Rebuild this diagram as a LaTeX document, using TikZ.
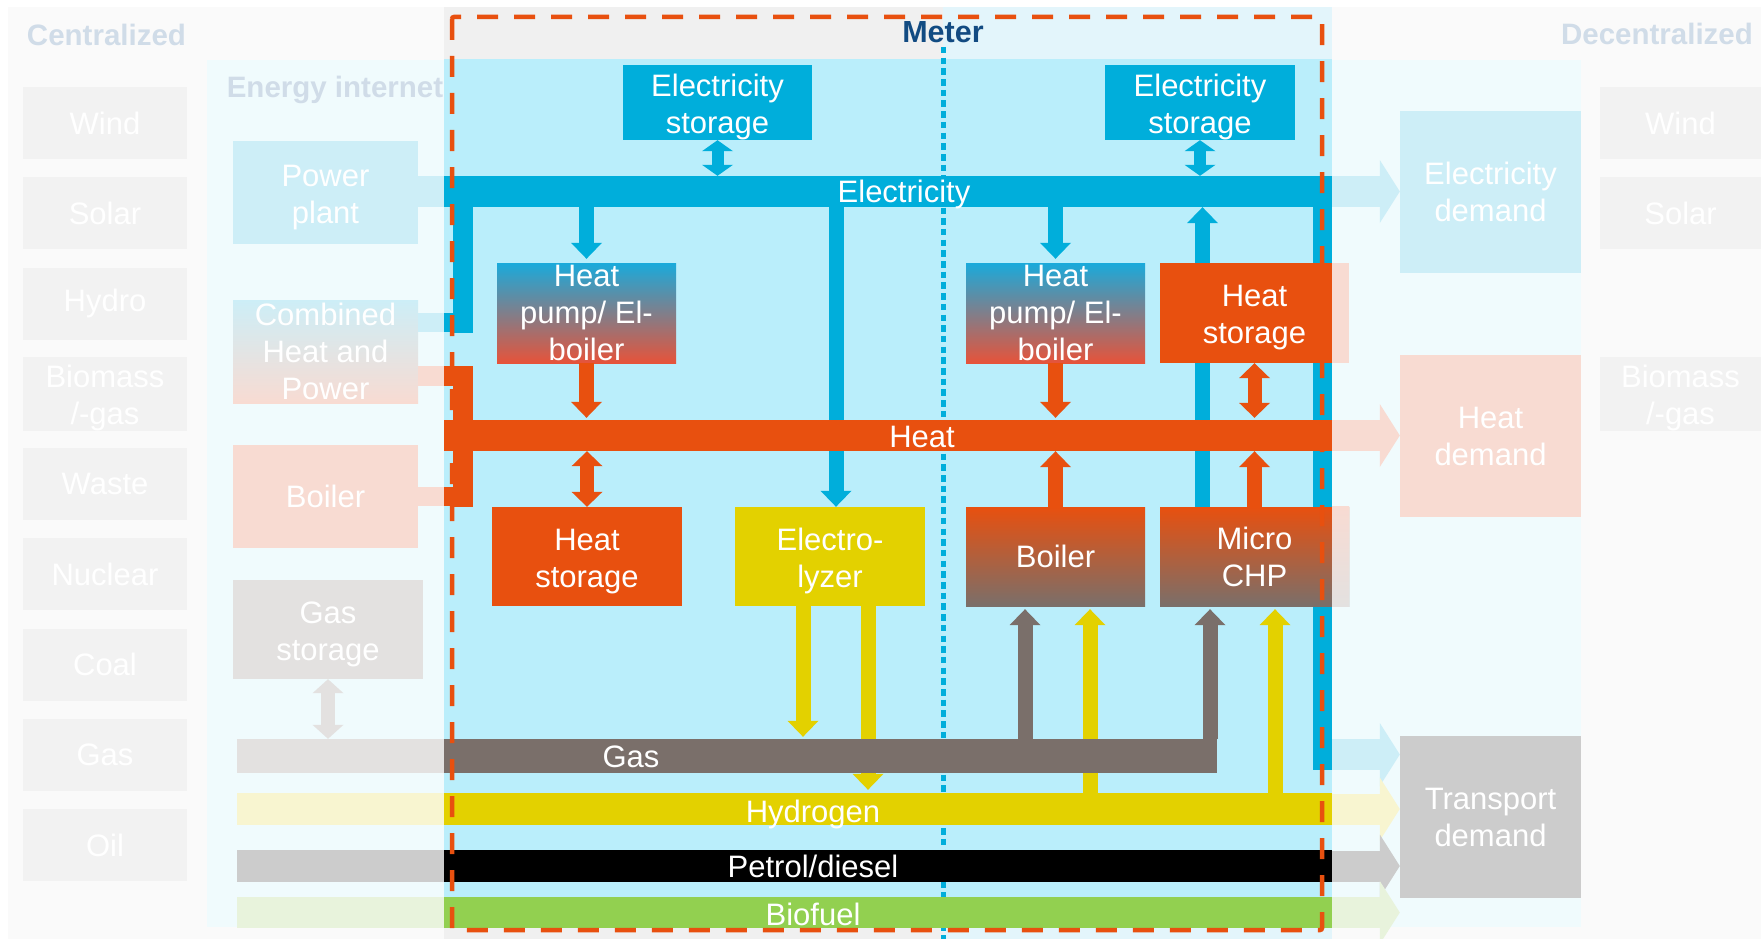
\documentclass[tikz,border=0pt]{standalone}
\usepackage{fontspec}
\setmainfont{Liberation Sans}
\usepackage{tikz}
\usetikzlibrary{arrows.meta}

\definecolor{elec}{HTML}{00AEDB}
\definecolor{heat}{HTML}{E8500F}
\definecolor{gasc}{HTML}{7A6F6A}
\definecolor{hydro}{HTML}{E3D100}
\definecolor{biof}{HTML}{92D050}
\definecolor{meterbg}{HTML}{BAEEFB}
\definecolor{metergrey}{HTML}{F0F0F0}
\definecolor{meterlight}{HTML}{E3F5FB}
\definecolor{netbg}{HTML}{F0FBFD}
\definecolor{outerbg}{HTML}{FAFAFA}
\definecolor{srcgrey}{HTML}{F2F2F2}
\definecolor{fadeblue}{HTML}{CDEEF7}
\definecolor{fadeheat}{HTML}{F8DBD2}
\definecolor{fadegas}{HTML}{E3E1E0}
\definecolor{fadehydro}{HTML}{F8F5D0}
\definecolor{fadepetrol}{HTML}{CCCCCC}
\definecolor{fadebio}{HTML}{E8F3DC}
\definecolor{titlec}{HTML}{D0DCE8}
\definecolor{meterc}{HTML}{124B82}
\definecolor{hptop}{HTML}{1AAADB}
\definecolor{hpbot}{HTML}{E6533A}

\newcommand{\boxfont}{\fontsize{31}{37}\selectfont}
\newcommand{\headfont}{\fontsize{29.5}{34}\selectfont\bfseries}
\newcommand{\lift}{\rule{0pt}{31pt}}

\begin{document}
\begin{tikzpicture}[x=1pt, y=-1pt,
	box/.style={rectangle, inner sep=0pt, align=center, text=white, font=\boxfont},
	src/.style={box, fill=srcgrey, minimum width=164pt, minimum height=72pt},
	bar/.style={rectangle, inner sep=0pt, minimum width=888pt},
	lbar/.style={rectangle, inner sep=0pt, minimum width=207pt},
	bartext/.style={anchor=base, text=white, font=\boxfont},
	head/.style={anchor=base, font=\headfont, text=titlec},
	onearrow/.style={line width=15pt, -{Triangle[length=16pt, width=31pt, line width=0pt]}},
	twoarrow/.style={line width=14pt, {Triangle[length=#1, width=31pt, line width=0pt]}-{Triangle[length=#1, width=31pt, line width=0pt]}},
	twoarrow/.default=15pt,
	fadearrow/.style={line width=31pt, -{Triangle[length=20pt, width=63pt, line width=0pt]}},
	]
	\useasboundingbox (0,0) rectangle (1761,939);
	% backgrounds
	\fill[white] (0,0) rectangle (1761,939);
	\fill[outerbg] (8,7) rectangle (1761,939);
	\fill[netbg] (207,60) rectangle (1581,927);
	\fill[metergrey] (444,7) rectangle (943,939);
	\fill[meterlight] (943,7) rectangle (1332,939);
	\fill[meterbg] (444,59) rectangle (1332,928);
	\draw[elec, line width=5pt, dash pattern=on 6.5pt off 4.2pt] (943,47) -- (943,939);

	% titles
	\node[head] (tcen) at (106.5,46) {Centralized};
	\node[head] (tdec) at (1657,45) {Decentralized};
	\node[head] (tnet) at (335,98) {Energy internet};
	\node[head, text=meterc, font=\fontsize{30.5}{34}\selectfont\bfseries] (tmet) at (943,43) {Meter};

	% sources
	\foreach \name/\txt [count=\i from 0] in {wind/Wind, solar/Solar, hydro/Hydro, biomass/{\lift Biomass\\/-gas}, waste/Waste, nuclear/Nuclear, coal/Coal, gas/Gas, oil/Oil}
		\node[src] (c\name) at (105,123+90.25*\i) {\txt};
	\foreach \name/\txt/\yy in {wind/Wind/123, solar/Solar/213, biomass/{\lift Biomass\\/-gas}/394}
		\node[src, minimum width=161pt] (d\name) at (1680.5,\yy) {\txt};

	% energy internet (outside the meter)
	\node[box, fill=fadeblue, minimum width=185pt, minimum height=103pt] (pp) at (325.5,192.5) {\lift Power\\plant};
	\node[box, top color=fadeblue, bottom color=fadeheat, minimum width=185pt, minimum height=103pt] (chp) at (325.5,351.5) {Combined\\Heat and\\Power};
	\node[box, fill=fadeheat, minimum width=185pt, minimum height=103pt] (boilL) at (325.5,496.5) {Boiler};
	\node[box, fill=fadegas, minimum width=190pt, minimum height=99pt] (gstor) at (328,629.5) {\lift Gas\\storage};
	\node[box, fill=fadeblue, minimum width=181pt, minimum height=162pt] (edem) at (1490.5,192) {Electricity\\demand};
	\node[box, fill=fadeheat, minimum width=181pt, minimum height=162pt] (hdem) at (1490.5,436) {Heat\\demand};
	\node[box, fill=fadepetrol, minimum width=181pt, minimum height=162pt] (tdem) at (1490.5,817) {Transport\\demand};
	\node[lbar, fill=fadegas, minimum height=34pt] (gasL) at (340.5,756) {};
	\node[lbar, fill=fadehydro, minimum height=32pt] (h2L) at (340.5,809) {};
	\node[lbar, fill=fadepetrol, minimum height=32pt] (petL) at (340.5,866) {};
	\node[lbar, fill=fadebio, minimum height=31pt] (bioL) at (340.5,912.5) {};
	\draw[twoarrow=14pt, fadegas] (gstor.south) -- (gstor.south |- gasL.north);

	% feeders into the meter
	\node[rectangle, inner sep=0pt, fill=elec, minimum width=19pt, minimum height=563pt] (evR) at (1322.5,488.5) {};
	\node[rectangle, inner sep=0pt, fill=elec, minimum width=20pt, minimum height=157pt] (evL) at (463,254.5) {};
	\node[rectangle, inner sep=0pt, fill=heat, minimum width=20pt, minimum height=141pt] (hvL) at (463,436.5) {};
	\coordinate (mW) at (444,0);
	\draw[fadeblue, line width=31pt] (pp.east |- 0,191.5) -- (mW |- 0,191.5);
	\draw[fadeblue, line width=19pt] ([yshift=29pt]chp.east) -- ([yshift=29pt]chp.east -| mW);
	\draw[elec, line width=19pt] ([yshift=29pt]chp.east -| mW) -- ([yshift=29pt]chp.east -| evL.west);
	\draw[fadeheat, line width=20pt] ([yshift=-24.5pt]chp.east) -- ([yshift=-24.5pt]chp.east -| mW);
	\draw[heat, line width=20pt] ([yshift=-24.5pt]chp.east -| mW) -- ([yshift=-24.5pt]chp.east -| hvL.west);
	\draw[fadeheat, line width=19pt] (boilL.east) -- (boilL.east -| mW);
	\draw[heat, line width=19pt] (boilL.east -| mW) -- (boilL.east -| hvL.west);

	% carriers and units inside the meter
	\node[bar, fill=elec, minimum height=31pt] (elecbar) at (888,191.5) {};
	\node[bar, fill=hydro, minimum height=32pt] (h2bar) at (888,809) {};
	\node[bar, fill=black, minimum height=32pt] (petbar) at (888,866) {};
	\node[bar, fill=biof, minimum height=31pt] (biobar) at (888,912.5) {};
	\node[box, fill=elec, minimum width=189pt, minimum height=75pt] (esL) at (717.5,102.5) {\lift Electricity\\storage};
	\node[box, fill=elec, minimum width=190pt, minimum height=75pt] (esR) at (1200,102.5) {\lift Electricity\\storage};
	\node[box, top color=hptop, bottom color=hpbot, minimum width=179pt, minimum height=100pt] (hpL) at (586.5,313) {Heat\\pump/ El-\\boiler};
	\node[box, top color=hptop, bottom color=hpbot, minimum width=179pt, minimum height=100pt] (hpR) at (1055.5,313) {Heat\\pump/ El-\\boiler};
	\node[box, fill=heat, minimum width=190pt, minimum height=99pt] (hsL) at (587,556.5) {\lift Heat\\storage};
	\node[box, fill=hydro, minimum width=190pt, minimum height=99pt] (elyz) at (830,556.5) {\lift Electro-\\lyzer};
	\node[box, top color=heat, bottom color=gasc, minimum width=179pt, minimum height=99pt] (boilR) at (1055.5,556.5) {Boiler};
	\node[box, top color=heat, bottom color=gasc, minimum width=189pt, minimum height=99pt] (mchp) at (1254.5,556.5) {Micro\\CHP};

	% flows running behind bars
	\coordinate (eIn) at ([xshift=6pt]elyz.north);
	\coordinate (mOut) at ([xshift=-52pt]mchp.north);
	\coordinate (yOutA) at ([xshift=-27pt]elyz.south);
	\coordinate (yOutB) at ([xshift=38pt]elyz.south);
	\coordinate (bGas) at ([xshift=-30.5pt]boilR.south);
	\coordinate (bHyd) at ([xshift=34.5pt]boilR.south);
	\coordinate (mGas) at ([xshift=-44.5pt]mchp.south);
	\coordinate (mHyd) at ([xshift=20.5pt]mchp.south);
	\draw[onearrow, elec] (elecbar.south -| eIn) -- (eIn);
	\draw[onearrow, elec] (mOut) -- (mOut |- elecbar.south);
	\draw[onearrow, hydro, shorten >=3pt] (yOutB) -- (yOutB |- h2bar.north);
	\draw[onearrow, hydro, shorten >=3pt] (h2bar.north -| bHyd) -- (bHyd);
	\draw[onearrow, hydro, shorten >=3pt] (h2bar.north -| mHyd) -- (mHyd);

	\node[bar, fill=heat, minimum height=31pt] (heatbar) at (888,435.5) {};
	\node[box, fill=heat, minimum width=189pt, minimum height=100pt] (hsR) at (1254.5,313) {\lift Heat\\storage};
	\node[rectangle, inner sep=0pt, fill=gasc, minimum width=773pt, minimum height=34pt] (gasbar) at (830.5,756) {};

	% flows on top
	\draw[twoarrow=11pt, elec, line width=12pt] (esL.south) -- (esL.south |- elecbar.north);
	\draw[twoarrow=11pt, elec, line width=12pt] (esR.south) -- (esR.south |- elecbar.north);
	\draw[onearrow, elec, shorten >=4pt] (elecbar.south -| hpL) -- (hpL.north);
	\draw[onearrow, elec, shorten >=4pt] (elecbar.south -| hpR) -- (hpR.north);
	\draw[onearrow, heat, shorten >=2pt] (hpL.south) -- (hpL.south |- heatbar.north);
	\draw[onearrow, heat, shorten >=2pt] (hpR.south) -- (hpR.south |- heatbar.north);
	\draw[twoarrow, heat] (heatbar.south -| hsL) -- (hsL.north);
	\draw[twoarrow, heat, shorten >=2pt] (hsR.south) -- (hsR.south |- heatbar.north);
	\draw[onearrow, heat] (boilR.north) -- (boilR.north |- heatbar.south);
	\draw[onearrow, heat] (mchp.north) -- (mchp.north |- heatbar.south);
	\draw[onearrow, hydro, shorten >=2pt] (yOutA) -- (yOutA |- gasbar.north);
	\draw[onearrow, gasc, shorten >=3pt] (gasbar.north -| bGas) -- (bGas);
	\draw[onearrow, gasc, shorten >=3pt] (gasbar.north -| mGas) -- (mGas);

	% carrier labels
	\node[bartext] (lelec) at (904,202) {Electricity};
	\node[bartext] (lheat) at (922,447) {Heat};
	\node[bartext] (lgas) at (631,767) {Gas};
	\node[bartext] (lhyd) at (813,822) {Hydrogen};
	\node[bartext] (lpet) at (813,877) {Petrol/diesel};
	\node[bartext] (lbio) at (813,925) {Biofuel};

	% parts beyond the meter
	\fill[fadeheat] (hsR.north east) rectangle ([xshift=-17pt]hsR.south east);
	\shade[top color=fadeheat, bottom color=fadegas] (mchp.north east) rectangle ([xshift=-17pt]mchp.south east);
	\draw[fadearrow, fadeblue] (elecbar.east) -- (elecbar.east -| edem.west);
	\draw[fadearrow, fadeheat] (heatbar.east) -- (heatbar.east -| hdem.west);
	\draw[fadearrow, fadeblue] (evR.east |- 0,754.5) -- (tdem.west |- 0,754.5);
	\draw[fadearrow, fadehydro] (h2bar.east) -- (h2bar.east -| tdem.west);
	\draw[fadearrow, fadepetrol] (petbar.east) -- (petbar.east -| tdem.west);
	\draw[fadearrow, fadebio] (biobar.east) -- (biobar.east -| tdem.west);

	% meter border
	\draw[heat, line width=4.5pt, dash pattern=on 21pt off 16pt, rounded corners=2pt] (452,17) rectangle (1322,930);
\end{tikzpicture}
\end{document}
